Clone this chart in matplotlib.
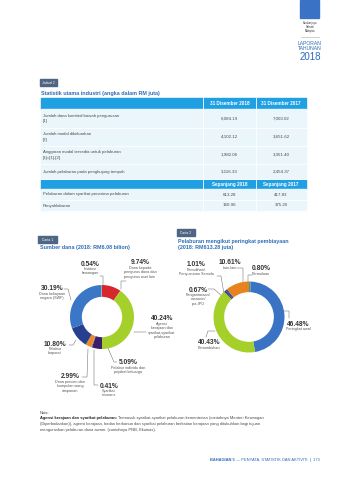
import matplotlib.pyplot as plt
from matplotlib.patches import Rectangle

plt.rcParams['font.family'] = ['Liberation Sans', 'DejaVu Sans']

W, H = 339, 480

# jadual 2 - statistik utama industri (RM juta)
row_labels = ["Jumlah dana komited bawah pengurusan\n[1]",
              "Jumlah modal dikeluarkan\n[2]",
              "Anggaran modal tersedia untuk pelaburan\n[3]=[1]-[2]",
              "Jumlah pelaburan pada penghujung tempoh"]
col_heads = ["31 Disember 2018", "31 Disember 2017"]
vals_2018 = [6084.19, 4102.12, 1982.06, 3116.33]
vals_2017 = [7003.02, 3651.62, 3351.40, 2454.37]
flow_heads = ["Sepanjang 2018", "Sepanjang 2017"]
flow_labels = ["Pelaburan dalam syarikat penerima pelaburan", "Penyahlaburan"]
flow_2018 = [613.28, 160.96]
flow_2017 = [417.83, 375.20]

# carta 1 - sumber dana, clockwise from 12 o'clock
c1_names = ["Dana kepada\npengurus dana dan\npengurus aset lain",
            "Agensi\nkerajaan dan\nsyarikat-syarikat\npelaburan",
            "Pelabur individu dan\npejabat keluarga",
            "Syarikat\ninsurans",
            "Dana pencen dan\nkumpulan wang\nsimpanan",
            "Pelabur\nkorporat",
            "Dana kekayaan\nnegara (SWF)",
            "Institusi\nkewangan"]
c1_pct = [9.74, 40.24, 5.09, 0.41, 2.99, 10.80, 30.19, 0.54]
c1_colors = ["#d6262e", "#a5cf2a", "#3b1f6b", "#7a6a8c", "#ea8a26", "#263f8f", "#3a77c7", "#9aa4b4"]

# carta 2 - peringkat pembiayaan, clockwise from 12 o'clock
c2_names = ["Permulaan", "Peringkat awal", "Pertumbuhan",
            "Pengantaraan/\nmezanin/\npra-IPO", "Pemulihan/\nPenyusunan Semula", "Lain-lain"]
c2_pct = [0.80, 46.48, 40.43, 0.67, 1.01, 10.61]
c2_colors = ["#3f9c8c", "#3a73c4", "#a5cf29", "#2b2f6e", "#34508f", "#e7821f"]

blue = "#2c6cb8"
txt = "#4a4a4a"

fig = plt.figure(figsize=(W / 100, H / 100), dpi=100)
ax = fig.add_axes([0, 0, 1, 1])
ax.set_xlim(0, W)
ax.set_ylim(H, 0)
ax.axis('off')

# header / logo
ax.add_patch(Rectangle((300, 0), 19, 18, color="#3a72c6"))
ax.text(310, 27, "Suruhanjaya\nSekuriti\nMalaysia", ha='center', va='center', fontsize=1.9, color="#333", linespacing=1.1)
ax.plot([301, 319], [37, 37], color="#aaa", lw=0.4)
ax.text(310, 46, "LAPORAN\nTAHUNAN", ha='center', va='center', fontsize=3.6, color=blue, linespacing=1.05)
ax.text(310, 57, "2018", ha='center', va='center', fontsize=7, color=blue)

# jadual label + title
ax.add_patch(Rectangle((40, 79), 17, 7, color="#4f6584"))
ax.text(48.5, 82.6, "Jadual 2", ha='center', va='center', fontsize=2.4, color='white')
ax.text(41, 93, "Statistik utama industri (angka dalam RM juta)", va='center', fontsize=3.9,
        color=blue, fontweight='bold')

x0, x1, x2, x3 = 41, 203, 256, 306
head_c = "#1fa0e3"
row_c = "#eaf5fc"


def header_row(y0, y1, heads):
    ax.add_patch(Rectangle((x0, y0), x3 - x0, y1 - y0, color=head_c))
    ax.plot([x1, x1], [y0, y1], color='white', lw=0.6)
    ax.plot([x2, x2], [y0, y1], color='white', lw=0.6)
    for xc, h in zip([(x1 + x2) / 2, (x2 + x3) / 2], heads):
        ax.text(xc, (y0 + y1) / 2, h, ha='center', va='center', fontsize=3.3, color='white', fontweight='bold')


def body_rows(bounds, labels, v1, v2):
    for (y0, y1), lab, a, b in zip(bounds, labels, v1, v2):
        ax.add_patch(Rectangle((x0, y0), x3 - x0, y1 - y0, color=row_c))
        ax.plot([x0, x3], [y1, y1], color='white', lw=0.6)
        ax.plot([x1, x1], [y0, y1], color='white', lw=0.6)
        ax.plot([x2, x2], [y0, y1], color='white', lw=0.6)
        ym = (y0 + y1) / 2
        ax.text(x0 + 2, ym, lab, va='center', fontsize=3.1, color=txt, linespacing=1.5)
        ax.text((x1 + x2) / 2, ym, f"{a:,.2f}", ha='center', va='center', fontsize=3.2, color=txt)
        ax.text((x2 + x3) / 2, ym, f"{b:,.2f}", ha='center', va='center', fontsize=3.2, color=txt)


header_row(98, 109, col_heads)
body_rows([(109, 128), (128, 146), (146, 164), (164, 179)], row_labels, vals_2018, vals_2017)
header_row(180, 189, flow_heads)
body_rows([(189, 200), (200, 211)], flow_labels, flow_2018, flow_2017)

# carta titles
ax.add_patch(Rectangle((38, 236), 19, 7, color="#4f6584"))
ax.text(47.5, 239.6, "Carta 1", ha='center', va='center', fontsize=2.4, color='white')
ax.text(40, 248, "Sumber dana (2018: RM6.08 bilion)", va='center', fontsize=3.9, color=blue, fontweight='bold')
ax.add_patch(Rectangle((177, 229), 18, 7, color="#4f6584"))
ax.text(186, 232.6, "Carta 2", ha='center', va='center', fontsize=2.4, color='white')
ax.text(178, 241, "Pelaburan mengikut peringkat pembiayaan", va='center', fontsize=3.9, color=blue,
        fontweight='bold')
ax.text(178, 248, "(2018: RM613.28 juta)", va='center', fontsize=3.9, color=blue, fontweight='bold')


def donut(cx, cy, r, w, shares, colors):
    a = fig.add_axes([(cx - r) / W, 1 - (cy + r) / H, 2 * r / W, 2 * r / H])
    a.pie(shares, colors=colors, startangle=90, counterclock=False, radius=1,
          wedgeprops=dict(width=w, edgecolor='none'))
    a.set_xlim(-1, 1)
    a.set_ylim(-1, 1)
    a.axis('off')


donut(102, 317, 32, 0.37, c1_pct, c1_colors)
donut(249, 317, 35.5, 0.3, c2_pct, c2_colors)

# label layout: (x, y of percentage), leader path
c1_layout = [((140, 263), [(121, 289), (121, 281), (126, 281)]),
             ((162, 319), [(134, 332), (146, 332)]),
             ((128, 363), [(108, 348), (114, 362), (117, 362)]),
             ((109, 386), [(94, 350), (94, 385), (98, 385)]),
             ((70, 377), [(88, 349), (87, 377), (82, 377)]),
             ((55, 344), [(76, 340), (73, 345), (69, 345)]),
             ((52, 289), [(64, 289), (68, 289), (71, 300)]),
             ((90, 264), [(100, 276), (103, 276), (103, 285)])]
c2_layout = [((261, 269), [(248, 282), (248, 275), (252, 275)]),
             ((298, 324), [(284, 311), (289, 311), (289, 318)]),
             ((209, 343), [(215, 331), (208, 331), (206, 337)]),
             ((198, 290), [(208, 289), (214, 289), (223, 297)]),
             ((196, 265), [(217, 276), (221, 276), (224, 294)]),
             ((230, 263), [(237, 268), (243, 268), (243, 283)])]

for names, pct, layout in [(c1_names, c1_pct, c1_layout), (c2_names, c2_pct, c2_layout)]:
    for name, p, ((tx, ty), path) in zip(names, pct, layout):
        ax.text(tx, ty, f"{p:.2f}%", ha='center', va='center', fontsize=4.8, color="#333", fontweight='bold')
        ax.text(tx, ty + 3, name, ha='center', va='top', fontsize=2.7, color="#555", linespacing=1.15)
        xs, ys = zip(*path)
        ax.plot(xs, ys, color="#666", lw=0.35)

# nota
ax.text(40, 413, "Nota:", va='center', fontsize=2.9, color=txt)
b = ax.text(40, 418.5, "Agensi kerajaan dan syarikat pelaburan:", va='center', fontsize=2.9, color="#222",
            fontweight='bold')
ax.annotate(" Termasuk syarikat-syarikat pelaburan kementerian (contohnya Menteri Kewangan",
            xy=(1, 0.5), xycoords=b, va='center', fontsize=2.9, color=txt)
ax.text(40, 424, "(Diperbadankan)), agensi kerajaan, badan berkanun dan syarikat pelaburan berkaitan kerajaan yang ditubuhkan bagi tujuan",
        va='center', fontsize=2.9, color=txt)
ax.text(40, 429.5, "menguruskan pelaburan dana awam. (contohnya PNB, Ekuinas).", va='center', fontsize=2.9, color=txt)

# footer
f = ax.text(210, 460, "BAHAGIAN 5", va='center', fontsize=2.9, color=blue, fontweight='bold')
ax.annotate(" \u2014 PENYATA, STATISTIK DAN AKTIVITI  |  173", xy=(1, 0.5), xycoords=f, va='center',
            fontsize=2.9, color=blue)

fig.savefig("out.png", dpi=100)
